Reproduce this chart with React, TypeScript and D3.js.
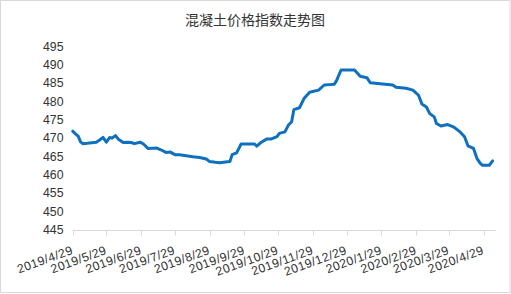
import React from "react";
import * as d3 from "d3";

const title = "混凝土价格指数走势图";

const dates: string[] = [
  "2019-04-29","2019-05-01","2019-05-04","2019-05-06","2019-05-08","2019-05-12","2019-05-14","2019-05-20",
  "2019-05-23","2019-05-26","2019-05-29","2019-06-01","2019-06-03","2019-06-06","2019-06-09","2019-06-13",
  "2019-06-17","2019-06-20","2019-06-23","2019-06-28","2019-07-01","2019-07-05","2019-07-13","2019-07-16",
  "2019-07-21","2019-07-25","2019-07-29","2019-08-02","2019-08-08","2019-08-14","2019-08-20","2019-08-26",
  "2019-08-29","2019-09-03","2019-09-07","2019-09-12","2019-09-16","2019-09-18","2019-09-22","2019-09-26",
  "2019-10-02","2019-10-08","2019-10-10","2019-10-14","2019-10-19","2019-10-23","2019-10-28","2019-10-30",
  "2019-11-04","2019-11-07","2019-11-10","2019-11-12","2019-11-17","2019-11-21","2019-11-26","2019-12-04",
  "2019-12-09","2019-12-14","2019-12-18","2019-12-20","2019-12-24","2019-12-30","2020-01-05","2020-01-10",
  "2020-01-16","2020-01-19","2020-01-30","2020-02-08","2020-02-11","2020-02-20","2020-02-26","2020-03-02",
  "2020-03-05","2020-03-09","2020-03-12","2020-03-16","2020-03-18","2020-03-22","2020-03-28","2020-04-02",
  "2020-04-08","2020-04-12","2020-04-15","2020-04-20","2020-04-23","2020-04-26","2020-04-28","2020-05-04",
  "2020-05-07",
];

const values: number[] = [
  471.9,471.3,470.5,469.0,468.5,468.6,468.7,468.9,
  469.5,470.2,468.9,470.2,470.0,470.7,469.6,468.8,
  468.9,468.8,468.5,468.9,468.4,467.2,467.3,466.9,
  466.1,466.2,465.5,465.5,465.2,464.9,464.7,464.3,
  463.6,463.4,463.3,463.5,463.6,465.5,466.0,468.4,
  468.4,468.4,467.8,468.9,469.8,469.8,470.4,471.3,
  471.7,473.5,474.5,477.8,478.3,480.8,482.5,483.1,
  484.5,484.6,484.7,485.7,488.6,488.6,488.6,486.9,
  486.5,485.1,484.8,484.5,483.9,483.6,483.1,481.7,
  479.3,478.5,476.7,475.8,474.0,473.3,473.7,473.1,
  471.7,470.4,467.9,467.2,464.5,463.1,462.6,462.6,
  463.8,
];

const tickDates: string[] = [
  "2019-04-29","2019-05-29","2019-06-29","2019-07-29","2019-08-29","2019-09-29","2019-10-29",
  "2019-11-29","2019-12-29","2020-01-29","2020-02-29","2020-03-29","2020-04-29",
];

const yTicks: number[] = [445, 450, 455, 460, 465, 470, 475, 480, 485, 490, 495];

const W = 511;
const H = 294;
const parse = d3.timeParse("%Y-%m-%d");
const fmt = (d: Date) => `${d.getFullYear()}/${d.getMonth() + 1}/${d.getDate()}`;

export default function App() {
  const x = d3
    .scaleTime()
    .domain([parse("2019-04-29") as Date, parse("2020-05-10") as Date])
    .range([72.7, 496]);
  const y = d3.scaleLinear().domain([445, 495]).range([229.8, 46.5]);

  const pts = dates.map((d, i) => ({ d: parse(d) as Date, v: values[i] }));
  const line = d3
    .line<{ d: Date; v: number }>()
    .x((p) => x(p.d))
    .y((p) => y(p.v));

  const axisY = 230.5;
  const font = "'Liberation Sans', Arial, sans-serif";

  return (
    <svg
      width={W}
      height={H}
      style={{ position: "absolute", left: 0, top: 0, display: "block" }}
    >
      <rect x={0} y={0} width={W} height={H} fill="#ffffff" />
      <rect x={0.5} y={0.5} width={W - 1.5} height={H - 2} fill="none" stroke="#d9d9d9" />
      <text
        x={255}
        y={25}
        textAnchor="middle"
        fontFamily="'Noto Sans CJK SC', sans-serif"
        fontSize={14}
        fill="#333333"
      >
        {title}
      </text>
      {yTicks.map((t) => (
        <text
          key={t}
          x={63.5}
          y={y(t)}
          dy="0.35em"
          textAnchor="end"
          fontFamily={font}
          fontSize={12.3}
          fill="#333333"
        >
          {t}
        </text>
      ))}
      <line x1={72.7} x2={496} y1={axisY} y2={axisY} stroke="#d9d9d9" strokeWidth={1} />
      {tickDates.map((s) => {
        const d = parse(s) as Date;
        const tx = Math.round(x(d)) + 0.5;
        return (
          <g key={s}>
            <line x1={tx} x2={tx} y1={axisY} y2={axisY + 5} stroke="#d9d9d9" />
            <text
              transform={`translate(${x(d) + 1},${253.5}) rotate(-20)`}
              textAnchor="end"
              fontFamily={font}
              fontSize={12.3}
              letterSpacing={0.4}
              fill="#333333"
            >
              {fmt(d)}
            </text>
          </g>
        );
      })}
      <path
        d={line(pts) || ""}
        fill="none"
        stroke="#1070C0"
        strokeWidth={3}
        strokeLinejoin="round"
        strokeLinecap="round"
      />
    </svg>
  );
}
